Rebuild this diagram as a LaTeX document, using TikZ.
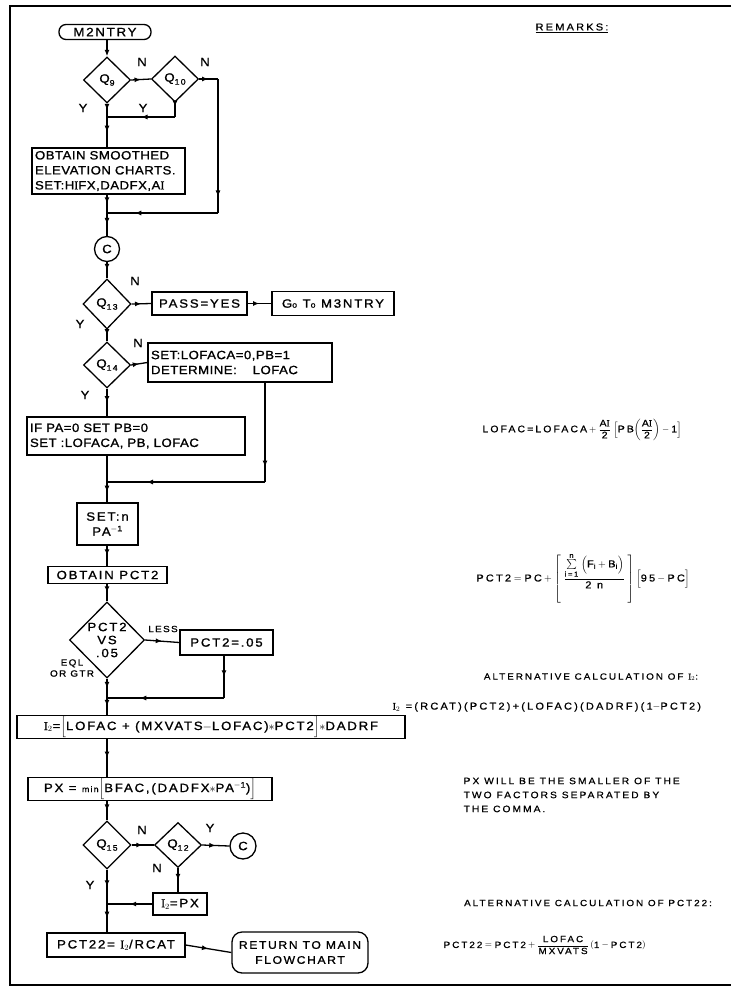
\documentclass[tikz,border=0pt]{standalone}
\usepackage{amsmath}
\usepackage{fontspec}
\setmainfont{Liberation Sans}[FakeStretch=1.1,LetterSpace=15,FakeBold=1.2]
\newfontfamily\tightfont{Liberation Sans}[FakeStretch=1.1,LetterSpace=4,FakeBold=1.2]
\newfontfamily\remfont{Liberation Sans}[FakeStretch=1.1,LetterSpace=22,FakeBold=0.8]
\newfontfamily\serfont{Liberation Serif}[FakeBold=1.2]
\usetikzlibrary{shapes.geometric,decorations.markings,arrows.meta}
\newcommand{\rI}{{\serfont I}}
\newcommand{\rt}[1]{\text{\remfont #1}}
\newcommand{\qsub}[1]{Q\raisebox{-3pt}{\footnotesize #1}}
\begin{document}
\begin{tikzpicture}[x=1pt,y=-1pt,line width=1.3pt,
  >={Latex[length=6.5pt,width=5pt]},
  every node/.style={font=\fontsize{12}{14}\selectfont},
  box/.style={draw,rectangle,inner sep=2pt},
  term/.style={draw,rectangle,rounded corners=7pt,inner sep=1pt},
  dia/.style={draw,diamond,inner sep=0pt,minimum width=47pt,minimum height=46pt},
  circ/.style={draw,circle,minimum size=25pt,inner sep=0pt},
  lbl/.style={inner sep=0pt,font=\fontsize{12}{14}\selectfont},
  small/.style={inner sep=0pt,font=\fontsize{9}{11}\selectfont},
  rem/.style={inner sep=0pt,font=\fontsize{9}{14}\remfont},
  ma/.style={decoration={markings,mark=at position #1 with {\arrow{>}}},postaction={decorate}},
  ma/.default=0.5]
\useasboundingbox (0,0) rectangle (731,996);
% frame
\draw[line width=1.4pt] (731,6) -- (10,6) -- (10,985) -- (731,985);

% nodes
\node[term,minimum width=92pt,minimum height=15pt] (start) at (105,32) {M2NTRY};
\node[dia] (q9) at (107,80) {\qsub{9}};
\node[dia] (q10) at (175,79) {\qsub{10}};
\node[box,text width=147pt,inner sep=3pt,align=left,font=\fontsize{12}{15}\tightfont] (obtain) at (108.5,171) {OBTAIN SMOOTHED\\ELEVATION CHARTS.\\SET:H\rI FX,DADFX,A\rI};
\node[circ] (c1) at (107,249) {C};
\node[dia,minimum width=48pt,minimum height=50pt] (q13) at (107,304) {\qsub{13}};
\node[box,minimum width=95pt,minimum height=23pt] (pass) at (199.5,303.5) {PASS=YES};
\node[box,minimum width=122pt,minimum height=24pt] (goto) at (333,303.5) {G{\footnotesize o} T{\footnotesize o} M3NTRY};
\node[dia] (q14) at (107,365) {\qsub{14}};
\node[box,text width=178pt,inner sep=3pt,minimum height=39pt,align=left,font=\fontsize{12}{15}\tightfont] (setlof) at (240,362.5) {SET:LOFACA=0,PB=1\\DETERMINE:\quad\ LOFAC};
\node[box,text width=212pt,inner sep=3pt,minimum height=38pt,align=left,font=\fontsize{12}{15}\tightfont] (ifpa) at (136,436) {IF PA=0 SET PB=0\\SET :LOFACA, PB, LOFAC};
\node[box,minimum width=61pt,minimum height=42pt,align=center,font=\fontsize{12}{15}\selectfont] (setn) at (107.5,524) {SET:n\\PA\textsuperscript{$-$1}};
\node[box,minimum width=119pt,minimum height=17pt,inner sep=1pt] (obtpct) at (107.5,575) {OBTAIN PCT2};
\node[dia,minimum width=75pt,minimum height=76pt,label={[align=center,font=\fontsize{12}{13}\selectfont]center:PCT2\\VS\\.05}] (vs) at (107,640) {};
\node[box,minimum width=93pt,minimum height=25pt] (pct05) at (226.5,642.5) {PCT2=.05};
\node[box,minimum width=388pt,minimum height=22pt,inner sep=1pt] (i2) at (211,727) {\rI$_2$=$\Bigl[$LOFAC + (MXVATS$-$LOFAC)$*$PCT2$\Bigr]$$*$DADRF};
\node[box,minimum width=244pt,minimum height=22pt,inner sep=1pt] (px) at (150,789) {PX = {\footnotesize min}$\Bigl[$BFAC,(DADFX$*$PA\textsuperscript{$-$1})$\Bigr]$};
\node[dia,minimum width=48pt,minimum height=48pt] (q15) at (107,845) {\qsub{15}};
\node[dia,minimum width=47pt,minimum height=45pt] (q12) at (178,845) {\qsub{12}};
\node[circ,minimum size=26pt] (c2) at (243,846) {C};
\node[box,minimum width=54pt,minimum height=22pt,inner sep=1pt] (i2px) at (180,904) {\rI$_2$=PX};
\node[box,minimum width=138pt,minimum height=24pt,inner sep=1pt] (pct22) at (116,945) {PCT22= \rI$_2$/RCAT};
\node[term,rounded corners=10pt,minimum width=136pt,minimum height=41pt,align=center,font=\fontsize{11}{15}\selectfont] (ret) at (300,952.5) {RETURN TO MAIN\\FLOWCHART};

% branch labels
\node[lbl] (n1) at (142,62) {N};
\node[lbl] (n2) at (205,62) {N};
\node[lbl] (y1) at (83,108) {Y};
\node[lbl] (y2) at (143,108) {Y};
\node[lbl] (n3) at (135,281) {N};
\node[lbl] (y3) at (80,324) {Y};
\node[lbl] (n4) at (138,343) {N};
\node[lbl] (y4) at (85,395) {Y};
\node[small] (less) at (163,629) {LESS};
\node[small,align=center] (eql) at (72,668) {EQL\\OR GTR};
\node[lbl] (n5) at (142,830) {N};
\node[lbl] (y5) at (210,828) {Y};
\node[lbl] (n6) at (157,868) {N};
\node[lbl] (y6) at (90,885) {Y};

% connectors
\coordinate (j1) at (107,117);
\coordinate (r1) at (218,79);
\coordinate (r2) at (218,213);
\coordinate (j2) at (107,213);
\draw[->] (q9.north |- start.south) -- (q9.north);
\draw[ma] (q9.east) -- (q10.west);
\draw[ma] (q9.south) -- (j1);
\draw[ma=0.3] (q10.south) -- (q10.south |- j1);
\draw[ma] (q10.south |- j1) -- (j1);
\draw[ma] (j1) -- (j1 |- obtain.north);
\draw[ma] (q10.east) -- (r1);
\draw[ma=0.88] (r1) -- (r2);
\draw[ma=0.75] (r2) -- (j2);
\draw[ma] (j2 |- obtain.south) -- (j2);
\draw[ma] (j2) -- (c1.north);
\draw[ma] (c1.south) -- (q13.north);
\draw[ma] (q13.east) -- (pass.west);
\draw[ma] (pass.east) -- (goto.west);
\draw[ma] (q13.south) -- (q14.north);
\draw[ma] (q14.east) -- (setlof.west);
\draw[ma] (q14.south) -- (q14.south |- ifpa.north);
\coordinate (j3) at (107,482);
\coordinate (r3) at (265,482);
\draw[ma=0.85] (r3 |- setlof.south) -- (r3);
\draw[ma=0.75] (r3) -- (j3);
\draw (j3 |- ifpa.south) -- (j3);
\draw[ma] (j3) -- (j3 |- setn.north);
\draw[ma] (j3 |- setn.south) -- (j3 |- obtpct.north);
\draw[ma] (j3 |- obtpct.south) -- (vs.north);
\draw[ma] (vs.east) -- (pct05.west);
\coordinate (j4) at (107,698);
\coordinate (r4) at (224,698);
\draw[ma] (r4 |- pct05.south) -- (r4);
\draw[ma=0.72] (r4) -- (j4);
\draw[ma] (vs.south) -- (j4);
\draw[ma] (j4) -- (j4 |- i2.north);
\draw[ma] (j4 |- i2.south) -- (j4 |- px.north);
\draw[ma] (j4 |- px.south) -- (q15.north);
\draw[ma] (q15.east) -- (q12.west);
\draw[ma] (q12.east) -- (c2.west);
\draw[ma] (q12.south) -- (q12.south |- i2px.north);
\coordinate (j5) at (107,904);
\draw[ma] (i2px.west) -- (j5);
\draw[ma] (q15.south) -- (j5);
\draw[ma] (j5) -- (j5 |- pct22.north);
\draw[ma] (pct22.east) -- (ret.west);

% remarks
\node[rem,font=\fontsize{10}{12}\remfont] (remarks) at (572,28) {\underline{REMARKS:}};
\node[rem,font=\fontsize{9.5}{14}\remfont] (flofac) at (582,430) {$\displaystyle\rt{LOFAC=LOFACA} + \frac{\rt{A\rI}}{\rt{2}}\;\Bigl[\rt{PB}\biggl(\frac{\rt{A\rI}}{\rt{2}}\biggr) - \rt{1}\Bigr]$};
\node[rem,font=\fontsize{10}{14}\remfont] (fpct2) at (583,578) {$\displaystyle\rt{PCT2}=\rt{PC}+\left[\;\frac{\sum\limits_{\rt{i=1}}^{\rt{n}}\;\Bigl(\rt{F}_{\rt{i}}+\rt{B}_{\rt{i}}\Bigr)}{\rt{2}\;\;\rt{n}}\;\right]\Bigl[\rt{95}-\rt{PC}\Bigr]$};
\node[rem] (alti2) at (591,677) {ALTERNATIVE CALCULATION OF \rI$_2$:};
\node[rem,anchor=west,font=\fontsize{10}{14}\remfont] (fi2) at (392,707) {\rI$_2$ =(RCAT)(PCT2)+(LOFAC)(DADRF)(1$-$PCT2)};
\node[rem,anchor=north west,align=left,font=\fontsize{9.3}{14}\remfont] (pxnote) at (463,777) {PX WILL BE THE SMALLER OF THE\\TWO FACTORS SEPARATED BY\\THE COMMA.};
\node[rem] (altpct) at (588,903) {ALTERNATIVE CALCULATION OF PCT22:};
\node[rem,anchor=west] (fpct22) at (443,945) {$\displaystyle\rt{PCT22} = \rt{PCT2} + \frac{\rt{LOFAC}}{\rt{MXVATS}}\,(\rt{1}-\rt{PCT2})$};
\end{tikzpicture}
\end{document}
